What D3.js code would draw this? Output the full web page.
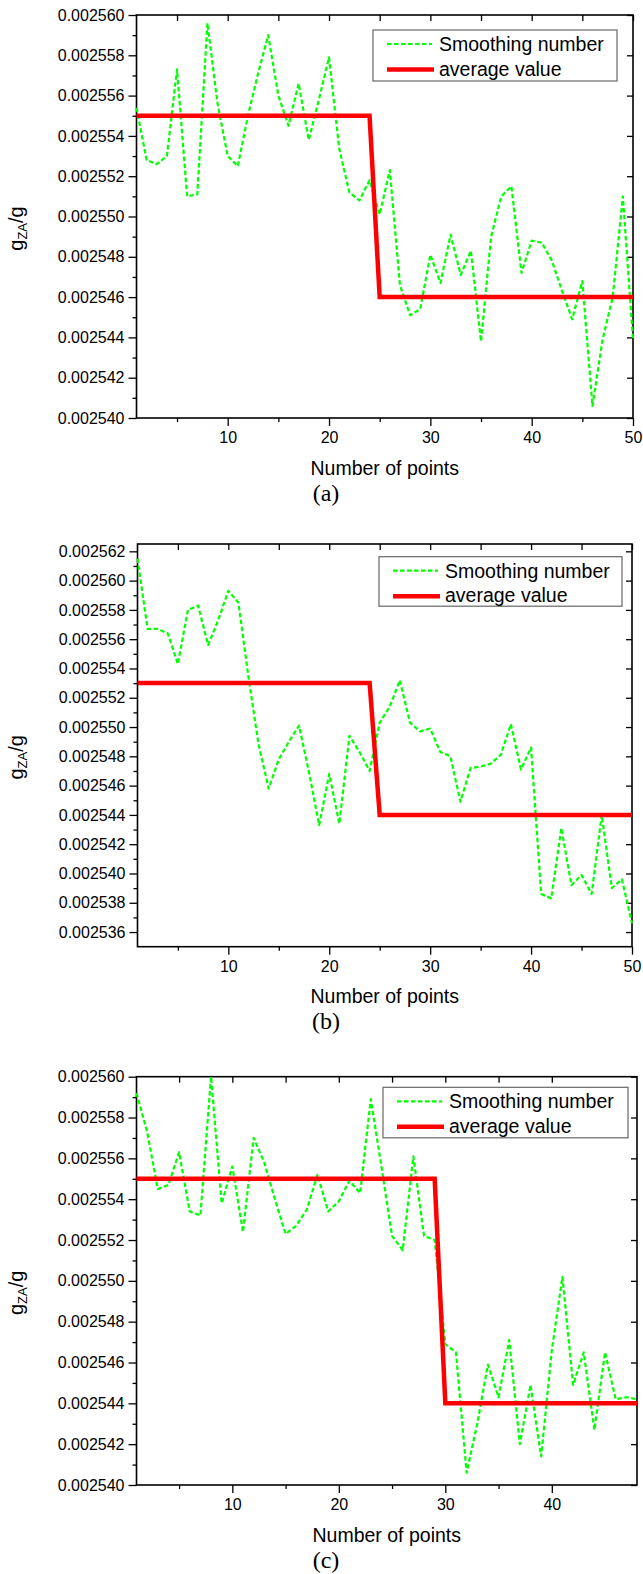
<!DOCTYPE html>
<html>
<head>
<meta charset="utf-8">
<script src="https://cdn.jsdelivr.net/npm/d3@7/dist/d3.min.js"></script>
<style>
  html, body { margin: 0; padding: 0; background: #fff; }
  svg { display: block; }
  text { font-family: "Liberation Sans", Arial, sans-serif; fill: #000; }
</style>
</head>
<body>
<svg id="chart" width="643" height="1574"></svg>
<script>
// ---------------- DATA ----------------
const seriesNames = ["Smoothing number", "average value"];
const panelLabels = ["(a)", "(b)", "(c)"];
const xAxisTitle = "Number of points";

// panel (a): 50 points
const smoothA = [0.0025554, 0.0025528, 0.0025526, 0.0025530, 0.0025573, 0.0025510, 0.0025511, 0.0025596, 0.0025556, 0.0025530,
                 0.0025525, 0.0025550, 0.0025571, 0.0025590, 0.0025560, 0.0025545, 0.0025566, 0.0025538, 0.0025558, 0.0025579,
                 0.0025534, 0.0025512, 0.0025508, 0.0025518, 0.0025501, 0.0025523, 0.0025466, 0.0025451, 0.0025454, 0.0025481,
                 0.0025467, 0.0025491, 0.0025471, 0.0025483, 0.0025438, 0.0025490, 0.0025510, 0.0025515, 0.0025472, 0.0025488,
                 0.0025487, 0.0025478, 0.0025463, 0.0025449, 0.0025468, 0.0025406, 0.0025439, 0.0025460, 0.0025510, 0.0025439];
const avgXA = [1, 24, 25, 50];
const avgYA = [0.002555, 0.002555, 0.002546, 0.002546];
const yTicksA = [0.002540, 0.002542, 0.002544, 0.002546, 0.002548, 0.002550, 0.002552, 0.002554, 0.002556, 0.002558, 0.002560];
const xTicksA = [10, 20, 30, 40, 50];

// panel (b): 50 points
const smoothB = [0.0025615, 0.0025567, 0.0025567, 0.0025564, 0.0025543, 0.0025580, 0.0025583, 0.0025556, 0.0025573, 0.0025593,
                 0.0025585, 0.0025534, 0.0025488, 0.0025458, 0.0025478, 0.0025490, 0.0025501, 0.0025469, 0.0025433, 0.0025468,
                 0.0025434, 0.0025494, 0.0025483, 0.0025470, 0.0025503, 0.0025514, 0.0025532, 0.0025503, 0.0025497, 0.0025499,
                 0.0025483, 0.0025480, 0.0025449, 0.0025472, 0.0025473, 0.0025475, 0.0025481, 0.0025502, 0.0025471, 0.0025486,
                 0.0025386, 0.0025383, 0.0025431, 0.0025392, 0.0025399, 0.0025386, 0.0025440, 0.0025390, 0.0025396, 0.0025366];
const avgXB = [1, 24, 25, 50];
const avgYB = [0.002553, 0.002553, 0.002544, 0.002544];
const yTicksB = [0.002536, 0.002538, 0.002540, 0.002542, 0.002544, 0.002546, 0.002548, 0.002550, 0.002552, 0.002554, 0.002556, 0.002558, 0.002560, 0.002562];
const xTicksB = [10, 20, 30, 40, 50];

// panel (c): 48 points
const smoothC = [0.0025592, 0.0025573, 0.0025545, 0.0025547, 0.0025563, 0.0025534, 0.0025532, 0.0025600, 0.0025538, 0.0025556,
                 0.0025524, 0.0025570, 0.0025558, 0.0025540, 0.0025523, 0.0025527, 0.0025535, 0.0025552, 0.0025534, 0.0025539,
                 0.0025549, 0.0025543, 0.0025589, 0.0025556, 0.0025522, 0.0025515, 0.0025561, 0.0025522, 0.0025520, 0.0025469,
                 0.0025465, 0.0025406, 0.0025430, 0.0025459, 0.0025443, 0.0025471, 0.0025420, 0.0025449, 0.0025414, 0.0025466,
                 0.0025502, 0.0025449, 0.0025465, 0.0025427, 0.0025465, 0.0025442, 0.0025443, 0.0025442];
const avgXC = [1, 29, 30, 48];
const avgYC = [0.002555, 0.002555, 0.002544, 0.002544];
const yTicksC = [0.002540, 0.002542, 0.002544, 0.002546, 0.002548, 0.002550, 0.002552, 0.002554, 0.002556, 0.002558, 0.002560];
const xTicksC = [10, 20, 30, 40];

// ---------------- LAYOUT ----------------
const panels = [
  { smooth: smoothA, avgX: avgXA, avgY: avgYA, yTicks: yTicksA, xTicks: xTicksA, xMax: 50,
    yDom: [0.002540, 0.002560], left: 136.5, right: 633, top: 15, bottom: 418,
    legend: { x: 373, y: 30, w: 244, h: 51 }, label: panelLabels[0] },
  { smooth: smoothB, avgX: avgXB, avgY: avgYB, yTicks: yTicksB, xTicks: xTicksB, xMax: 50,
    yDom: [0.002535, 0.0025625], left: 137.5, right: 632, top: 544, bottom: 946.7,
    legend: { x: 379, y: 556.7, w: 243, h: 49.5 }, label: panelLabels[1] },
  { smooth: smoothC, avgX: avgXC, avgY: avgYC, yTicks: yTicksC, xTicks: xTicksC, xMax: 48,
    yDom: [0.002540, 0.002560], left: 136.5, right: 637, top: 1076.7, bottom: 1485,
    legend: { x: 383, y: 1087.3, w: 245, h: 50.5 }, label: panelLabels[2] }
];

const GREEN = "#00ff00";
const RED = "#ff0000";
const svg = d3.select("#chart");

panels.forEach(p => {
  const g = svg.append("g");
  const x = d3.scaleLinear().domain([1, p.xMax]).range([p.left, p.right]);
  const y = d3.scaleLinear().domain(p.yDom).range([p.bottom, p.top]);
  const fmt = d3.format(".6f");

  // minor tick positions
  const yMinor = p.yTicks.slice(0, -1).map((d, i) => (d + p.yTicks[i + 1]) / 2);
  const xMinor = p.xTicks.map(d => d - 5);
  const xAll = [...xMinor, ...p.xTicks].sort((a, b) => a - b);

  // left axis (major with labels)
  const la = g.append("g").attr("transform", `translate(${p.left},0)`)
    .call(d3.axisLeft(y).tickValues(p.yTicks).tickFormat(fmt).tickSize(8).tickPadding(4).tickSizeOuter(0));
  la.select(".domain").remove();
  la.selectAll("text").style("font-size", "16px").style("font-family", '"Liberation Sans", Arial, sans-serif');
  la.selectAll("line").attr("stroke-width", 1.3);
  // left minor
  const lm = g.append("g").attr("transform", `translate(${p.left},0)`)
    .call(d3.axisLeft(y).tickValues(yMinor).tickFormat("").tickSize(4).tickSizeOuter(0));
  lm.select(".domain").remove();
  lm.selectAll("line").attr("stroke-width", 1.3);

  // bottom axis
  const ba = g.append("g").attr("transform", `translate(0,${p.bottom})`)
    .call(d3.axisBottom(x).tickValues(p.xTicks).tickFormat(d3.format("d")).tickSize(8).tickPadding(6).tickSizeOuter(0));
  ba.select(".domain").remove();
  ba.selectAll("text").style("font-size", "16px").style("font-family", '"Liberation Sans", Arial, sans-serif');
  ba.selectAll("line").attr("stroke-width", 1.3);
  const bm = g.append("g").attr("transform", `translate(0,${p.bottom})`)
    .call(d3.axisBottom(x).tickValues(xMinor).tickFormat("").tickSize(4).tickSizeOuter(0));
  bm.select(".domain").remove();
  bm.selectAll("line").attr("stroke-width", 1.3);

  // top axis (inward ticks)
  const ta = g.append("g").attr("transform", `translate(0,${p.top})`)
    .call(d3.axisBottom(x).tickValues(xAll).tickFormat("").tickSize(6).tickSizeOuter(0));
  ta.select(".domain").remove();
  ta.selectAll("line").attr("stroke-width", 1.3);

  // right axis (inward ticks)
  const ra = g.append("g").attr("transform", `translate(${p.right},0)`)
    .call(d3.axisLeft(y).tickValues(p.yTicks).tickFormat("").tickSize(6).tickSizeOuter(0));
  ra.select(".domain").remove();
  ra.selectAll("line").attr("stroke-width", 1.3);

  // frame
  g.append("rect")
    .attr("x", p.left).attr("y", p.top)
    .attr("width", p.right - p.left).attr("height", p.bottom - p.top)
    .attr("fill", "none").attr("stroke", "#000").attr("stroke-width", 1.6);

  // green dashed line
  const line = d3.line().x((d, i) => x(i + 1)).y(d => y(d));
  g.append("path").datum(p.smooth)
    .attr("d", line)
    .attr("fill", "none").attr("stroke", GREEN).attr("stroke-width", 2.2)
    .attr("stroke-dasharray", "4.5 2.5").attr("stroke-linejoin", "round");

  // red average line
  const avgPts = p.avgX.map((d, i) => [d, p.avgY[i]]);
  g.append("path").datum(avgPts)
    .attr("d", d3.line().x(d => x(d[0])).y(d => y(d[1])))
    .attr("fill", "none").attr("stroke", RED).attr("stroke-width", 4.5)
    .attr("stroke-linejoin", "miter");

  // legend
  const L = p.legend;
  const lg = g.append("g");
  lg.append("rect").attr("x", L.x).attr("y", L.y).attr("width", L.w).attr("height", L.h)
    .attr("fill", "#fff").attr("stroke", "#666").attr("stroke-width", 1.2);
  lg.append("line").attr("x1", L.x + 14).attr("x2", L.x + 59)
    .attr("y1", L.y + 14).attr("y2", L.y + 14)
    .attr("stroke", GREEN).attr("stroke-width", 2.2).attr("stroke-dasharray", "4.5 2.5");
  lg.append("line").attr("x1", L.x + 14).attr("x2", L.x + 61)
    .attr("y1", L.y + 39.5).attr("y2", L.y + 39.5)
    .attr("stroke", RED).attr("stroke-width", 4.5);
  lg.append("text").attr("x", L.x + 66).attr("y", L.y + 21).style("font-size", "19.5px").text(seriesNames[0]);
  lg.append("text").attr("x", L.x + 66).attr("y", L.y + 45.5).style("font-size", "19.5px").text(seriesNames[1]);

  // x axis title
  g.append("text")
    .attr("x", (p.left + p.right) / 2).attr("y", p.bottom + 56.5)
    .attr("text-anchor", "middle").style("font-size", "19.5px").text(xAxisTitle);

  // panel label
  g.append("text")
    .attr("x", 326).attr("y", p.bottom + 82.5)
    .attr("text-anchor", "middle")
    .style("font-family", '"Liberation Serif", "Times New Roman", serif')
    .style("font-size", "24px").text(p.label);

  // y axis title
  const cy = (p.top + p.bottom) / 2 + 12;
  const yt = g.append("text")
    .attr("transform", `translate(23,${cy}) rotate(-90)`)
    .attr("text-anchor", "middle").style("font-size", "20px");
  yt.append("tspan").text("g");
  yt.append("tspan").attr("dy", 4).style("font-size", "13px").text("ZA");
  yt.append("tspan").attr("dy", -4).text("/g");
});
</script>
</body>
</html>
